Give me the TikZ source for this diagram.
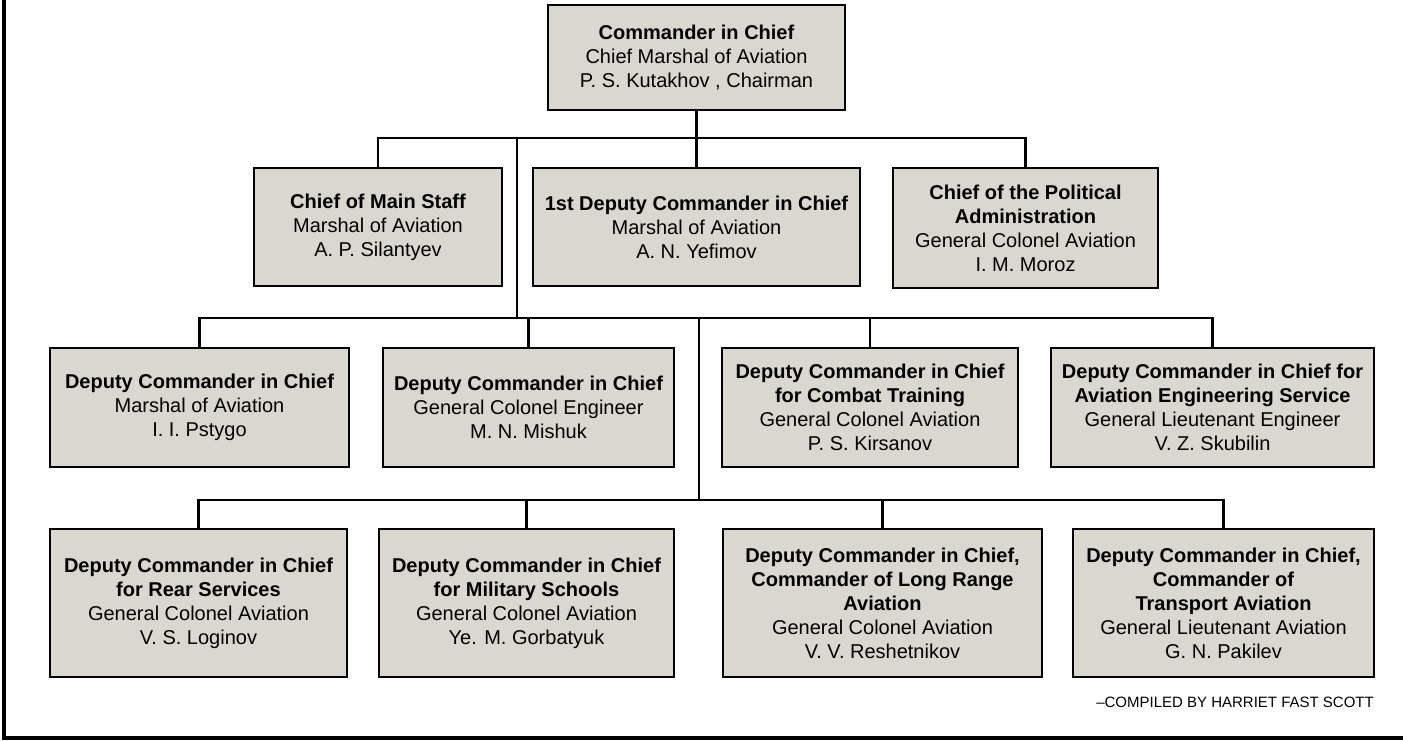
\documentclass[tikz,border=0pt]{standalone}
\usepackage{fontspec}
\setmainfont{Liberation Sans}
\usetikzlibrary{positioning, calc}

\definecolor{boxgray}{RGB}{217,215,207}

\begin{document}
\begin{tikzpicture}[x=1pt, y=-1pt, font=\fontsize{20}{24}\selectfont]
        % Styles
        \tikzstyle{block} = [rectangle, draw, fill=boxgray, align=center, inner sep=0pt, line width=2.2pt]
        \tikzstyle{line} = [draw, line width=2.6pt]
        \useasboundingbox (0,0) rectangle (1403,741);

        % Frame (only left and bottom edges show)
        \draw [line width=3.5pt] (4,0) -- (4,738) -- (1403,738);

        % Nodes
        \node (chief) [block, minimum width=297pt, minimum height=105pt] at (696.5,57.5) {\textbf{Commander in Chief}\\Chief Marshal of Aviation\\P. S. Kutakhov , Chairman};

        \node (staff) [block, minimum width=248pt, minimum height=118pt] at (378,227) {\textbf{Chief of Main Staff}\\Marshal of Aviation\\A. P. Silantyev};
        \node (firstdep) [block, minimum width=327pt, minimum height=118pt] at (696.5,227) {\textbf{1st Deputy Commander in Chief}\\Marshal of Aviation\\A. N. Yefimov};
        \node (polit) [block, minimum width=265pt, minimum height=120pt] at (1025.5,228) {\textbf{Chief of the Political}\\\textbf{Administration}\\General Colonel Aviation\\I. M. Moroz};

        \node (pstygo) [block, minimum width=299pt, minimum height=119pt] at (199.5,407.5) {\textbf{Deputy Commander in Chief}\\Marshal of Aviation\\I. I. Pstygo};
        \node (mishuk) [block, minimum width=291pt, minimum height=119pt] at (528.5,407.5) {\textbf{Deputy Commander in Chief}\\General Colonel Engineer\\M. N. Mishuk};
        \node (kirsanov) [block, minimum width=296pt, minimum height=119pt] at (870,407.5) {\textbf{Deputy Commander in Chief}\\\textbf{for Combat Training}\\General Colonel Aviation\\P. S. Kirsanov};
        \node (skubilin) [block, minimum width=323pt, minimum height=119pt] at (1212.5,407.5) {\textbf{Deputy Commander in Chief for}\\\textbf{Aviation Engineering Service}\\General Lieutenant Engineer\\V. Z. Skubilin};

        \node (loginov) [block, minimum width=297pt, minimum height=148pt] at (198.5,603) {\textbf{Deputy Commander in Chief}\\\textbf{for Rear Services}\\General Colonel Aviation\\V. S. Loginov};
        \node (gorbatyuk) [block, minimum width=295pt, minimum height=148pt] at (526.5,603) {\textbf{Deputy Commander in Chief}\\\textbf{for Military Schools}\\General Colonel Aviation\\Ye. M. Gorbatyuk};
        \node (reshetnikov) [block, minimum width=319pt, minimum height=148pt] at (882.5,603) {\textbf{Deputy Commander in Chief,}\\\textbf{Commander of Long Range}\\\textbf{Aviation}\\General Colonel Aviation\\V. V. Reshetnikov};
        \node (pakilev) [block, minimum width=301pt, minimum height=148pt] at (1223.5,603) {\textbf{Deputy Commander in Chief,}\\\textbf{Commander of}\\\textbf{Transport Aviation}\\General Lieutenant Aviation\\G. N. Pakilev};

        \node (credit) [anchor=east, inner sep=0pt, font=\fontsize{15}{18}\selectfont] at (1374,702) {--COMPILED BY HARRIET FAST SCOTT};

        % Buses
        \coordinate (bus1) at (517,138);
        \coordinate (bus2) at (699,318);
        \coordinate (bus3) at (699,500);

        % Edges
        % 1. Commander -> second row
        \path [line] (chief.south) -- (chief.south |- bus1);
        \path [line] (staff.north) |- (bus1 -| polit.north) -- (polit.north);
        \path [line] (firstdep.north) -- (firstdep.north |- bus1);

        % 2. trunk down to third row
        \path [line] (bus1) -- (bus1 |- bus2);
        \path [line] (pstygo.north) |- (bus2 -| skubilin.north) -- (skubilin.north);
        \path [line] (mishuk.north) -- (mishuk.north |- bus2);
        \path [line] (kirsanov.north) -- (kirsanov.north |- bus2);

        % 3. trunk down to fourth row
        \path [line] (bus2) -- (bus3);
        \path [line] (loginov.north) |- (bus3 -| pakilev.north) -- (pakilev.north);
        \path [line] (gorbatyuk.north) -- (gorbatyuk.north |- bus3);
        \path [line] (reshetnikov.north) -- (reshetnikov.north |- bus3);

    \end{tikzpicture}
\end{document}
